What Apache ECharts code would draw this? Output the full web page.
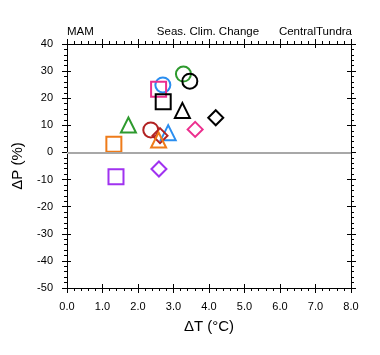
<!DOCTYPE html>
<html><head><meta charset="utf-8">
<script src="https://cdn.jsdelivr.net/npm/echarts@6/dist/echarts.min.js"></script>
<style>html,body{margin:0;padding:0;background:#fff}#c{width:380px;height:355px}</style>
</head><body><div id="c"></div>
<script>
// Data
const dT = [3.28, 3.46, 2.70, 2.58, 2.71, 3.25, 4.19, 1.73, 2.36, 2.85, 3.61, 2.62, 2.58, 1.32, 1.38, 2.59];
const dP = [28.9, 26.3, 24.9, 23.3, 18.7, 15.5, 12.8, 10.1, 8.3, 7.3, 8.5, 6.2, 4.6, 3.0, -9.0, -6.1];
const shapes = ['circle','circle','circle','rect','rect','triangle','diamond','triangle','circle','triangle','diamond','diamond','triangle','rect','rect','diamond'];
const colors = ['#2e9a2e','#000000','#2a8ef0','#ec2f8e','#000000','#000000','#000000','#2e9a2e','#b22222','#2a8ef0','#ec2f8e','#b22222','#ee7b1a','#ee7b1a','#a032f0','#a032f0'];
const xTicks = ['0.0','1.0','2.0','3.0','4.0','5.0','6.0','7.0','8.0'];
const yTicks = [-50,-40,-30,-20,-10,0,10,20,30,40];

const font = 'Liberation Sans, Arial, Helvetica, sans-serif';
const chart = echarts.init(document.getElementById('c'), null, {renderer:'canvas'});

function xa(pos, inside, labels, name) {
  return {
    type:'value', min:0, max:8, interval:1, position:pos,
    axisLine:{show:true, onZero:false, lineStyle:{color:'#000', width:1}},
    axisTick:{show:true, inside:inside, length:inside?4:5, lineStyle:{color:'#000'}},
    minorTick:{show:!inside, splitNumber:5, length:3, lineStyle:{color:'#000'}},
    splitLine:{show:false},
    axisLabel:{show:labels, margin:13, color:'#000', fontSize:11, fontFamily:font,
      formatter:v=>xTicks[Math.round(v)]},
    name: name||'', nameLocation:'middle', nameGap:31,
    nameTextStyle:{fontSize:15, color:'#000', fontFamily:font}
  };
}
function ya(pos, inside, labels, name) {
  return {
    type:'value', min:-50, max:40, interval:10, position:pos,
    axisLine:{show:true, onZero:false, lineStyle:{color:'#000', width:1}},
    axisTick:{show:true, inside:inside, length:inside?4:5, lineStyle:{color:'#000'}},
    minorTick:{show:!inside, splitNumber:5, length:3, lineStyle:{color:'#000'}},
    splitLine:{show:false},
    axisLabel:{show:labels, margin:14, color:'#000', fontSize:11, fontFamily:font,
      formatter:v=>(yTicks.indexOf(v)>=0?String(v):'')},
    name: name||'', nameLocation:'middle', nameGap:42,
    nameTextStyle:{fontSize:15, color:'#000', fontFamily:font}
  };
}

const series = dT.map((x,i)=>({
  type:'scatter', xAxisIndex:0, yAxisIndex:0,
  data:[[x, dP[i]]],
  symbol:shapes[i],
  symbolSize: 15,
  itemStyle:{color:'rgba(0,0,0,0)', borderColor:colors[i], borderWidth:2, opacity:1},
  emphasis:{disabled:true},
  z:3
}));
series.unshift({
  type:'line', xAxisIndex:0, yAxisIndex:0, data:[], silent:true,
  markLine:{silent:true, symbol:'none', label:{show:false},
    lineStyle:{color:'#a8a8a8', width:2, type:'solid'},
    data:[{yAxis:0}]}
});

chart.setOption({
  animation:false,
  backgroundColor:'#fff',
  grid:{left:67, right:29, top:44, bottom:67, containLabel:false},
  xAxis:[xa('bottom',false,true,'ΔT (°C)'), xa('bottom',true,false), xa('top',false,false), xa('top',true,false)],
  yAxis:[ya('left',false,true,'ΔP (%)'), ya('left',true,false), ya('right',false,false), ya('right',true,false)],
  series:series,
  graphic:[
    {type:'text', left:67, top:26, style:{text:'MAM', font:'11.5px '+font, fill:'#000'}},
    {type:'text', x:208, y:26, style:{text:'Seas. Clim. Change', font:'11.5px '+font, fill:'#000', textAlign:'center'}},
    {type:'text', right:28, top:26, style:{text:'CentralTundra', font:'11.5px '+font, fill:'#000'}}
  ]
});
</script></body></html>
